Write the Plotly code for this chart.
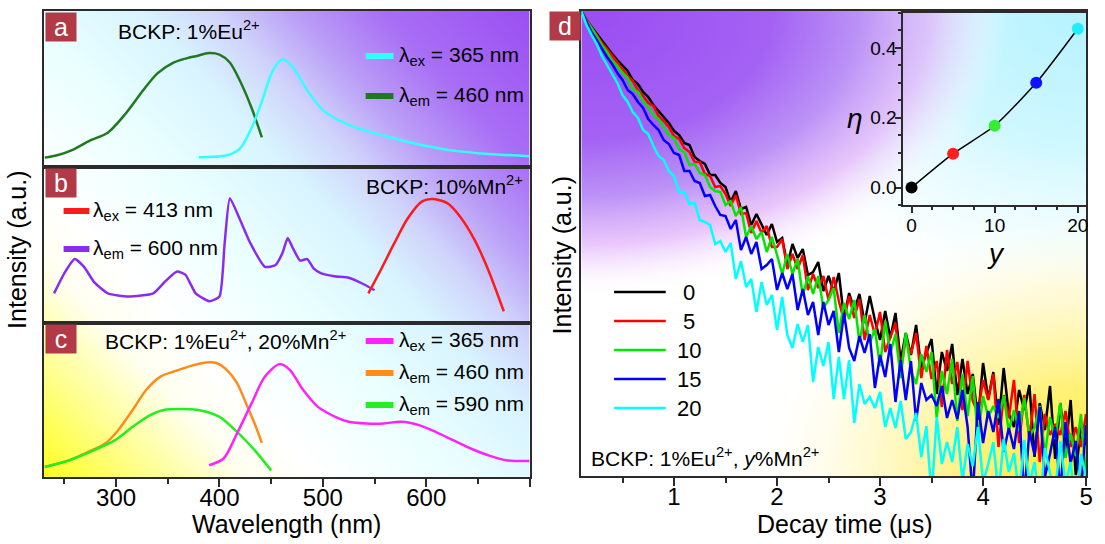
import base64
import numpy as np
import plotly.graph_objects as go

W, H = 1105, 544
FONT = "Arial"
EDGE = "#2b2b2b"

# ---------------- spectra (normalised intensity) ----------------
# (a) BCKP: 1%Eu2+
a_exc_wl = [231, 243, 258, 275, 292, 309, 326, 340, 356, 370, 377, 390, 400, 410, 420, 431, 441]
a_exc_int = [0.06, 0.075, 0.11, 0.17, 0.22, 0.34, 0.49, 0.60, 0.67, 0.70, 0.71, 0.73, 0.72, 0.67, 0.55, 0.38, 0.19]
a_em_wl = [380, 407, 420, 431, 441, 451, 461, 471, 485, 501, 525, 559, 593, 626, 660, 700]
a_em_int = [0.062, 0.075, 0.12, 0.25, 0.42, 0.61, 0.69, 0.64, 0.49, 0.36, 0.27, 0.20, 0.144, 0.105, 0.084, 0.069]

# (b) BCKP: 10%Mn2+
b_exc_wl = [240, 250, 260, 269, 279, 292, 312, 336, 348, 359, 367, 377, 390, 400, 405, 410, 420, 430,
            444, 454, 461, 466, 471, 478, 485, 491, 498, 511, 525, 539, 550]
b_exc_int = [0.19, 0.32, 0.41, 0.36, 0.26, 0.19, 0.17, 0.19, 0.27, 0.33, 0.31, 0.19, 0.14, 0.17, 0.51, 0.80, 0.66, 0.51,
             0.36, 0.37, 0.45, 0.545, 0.48, 0.40, 0.41, 0.35, 0.32, 0.30, 0.29, 0.25, 0.21]
b_em_wl = [544, 556, 569, 582, 596, 606, 620, 633, 647, 660, 675]
b_em_int = [0.19, 0.34, 0.51, 0.67, 0.78, 0.795, 0.77, 0.68, 0.53, 0.34, 0.075]

# (c) BCKP: 1%Eu2+, 20%Mn2+
c_em_wl = [390, 404, 417, 431, 444, 458, 468, 481, 495, 512, 525, 542, 559, 576, 593, 609, 626, 643, 660, 677, 700]
c_em_int = [0.076, 0.12, 0.283, 0.478, 0.652, 0.733, 0.696, 0.565, 0.457, 0.391, 0.359, 0.348, 0.348, 0.359,
            0.337, 0.293, 0.239, 0.185, 0.141, 0.109, 0.104]
c_exc460_wl = [231, 255, 272, 289, 302, 316, 329, 343, 356, 370, 387, 397, 407, 417, 427, 434, 441]
c_exc460_int = [0.065, 0.11, 0.16, 0.215, 0.304, 0.435, 0.565, 0.652, 0.685, 0.717, 0.743, 0.74, 0.696, 0.61,
                0.457, 0.348, 0.222]
c_exc590_wl = [231, 255, 275, 299, 316, 333, 346, 366, 383, 400, 417, 434, 450]
c_exc590_int = [0.065, 0.109, 0.163, 0.239, 0.326, 0.402, 0.435, 0.441, 0.43, 0.39, 0.293, 0.174, 0.043]

wl_ticks = [300, 400, 500, 600, 700]
wl_ticktext = ["300", "400", "500", "600", ""]

# ---------------- decay curves, log10(counts) ----------------
decay_time = np.round(np.arange(0.10, 5.0001, 0.05), 2)
logc_0 = [4.65, 4.56, 4.49, 4.42, 4.35, 4.29, 4.22, 4.16, 4.10, 4.05,
          3.96, 3.92, 3.84, 3.79, 3.71, 3.65, 3.58, 3.53, 3.45, 3.41,
          3.33, 3.31, 3.19, 3.15, 3.12, 3.01, 3.01, 2.93, 2.89, 2.74,
          2.85, 2.67, 2.69, 2.51, 2.62, 2.52, 2.41, 2.52, 2.34, 2.38,
          2.11, 2.32, 2.18, 2.27, 2.01, 2.04, 2.14, 1.85, 2.00, 1.84,
          2.03, 1.58, 1.83, 1.66, 1.82, 1.53, 1.80, 1.56, 1.36, 1.65,
          1.38, 1.63, 1.15, 1.43, 1.21, 1.51, 1.08, 1.23, 1.37, 0.82,
          1.24, 1.05, 1.32, 0.81, 1.17, 0.82, 1.02, 0.56, 1.13, 0.77,
          1.04, 0.51, 1.08, 0.62, 0.49, 0.86, 0.66, 0.91, 0.19, 0.73,
          0.46, 0.90, 0.17, 0.73, 0.26, 0.76, 0.01, 0.51, 0.31]
logc_5 = [4.65, 4.56, 4.48, 4.41, 4.33, 4.27, 4.20, 4.13, 4.07, 4.00,
          3.95, 3.86, 3.80, 3.73, 3.70, 3.60, 3.55, 3.49, 3.40, 3.37,
          3.28, 3.24, 3.14, 3.14, 3.02, 3.00, 2.89, 2.90, 2.82, 2.70,
          2.81, 2.62, 2.63, 2.43, 2.55, 2.43, 2.50, 2.29, 2.29, 2.37,
          2.07, 2.22, 2.07, 2.21, 1.86, 2.02, 1.88, 2.00, 1.76, 1.99,
          1.75, 1.55, 1.80, 1.58, 1.77, 1.36, 1.61, 1.41, 1.64, 1.24,
          1.39, 1.53, 1.05, 1.37, 1.22, 1.43, 0.98, 1.30, 0.97, 1.15,
          0.69, 1.26, 0.92, 1.14, 0.66, 1.15, 0.75, 0.63, 0.96, 0.76,
          1.02, 0.29, 0.81, 0.58, 0.96, 0.33, 0.81, 0.37, 0.82, 0.14,
          0.62, 0.41, 0.52, 0.41, 0.65, 0.29, 0.49, 0.29, 0.62]
logc_10 = [4.65, 4.55, 4.48, 4.39, 4.31, 4.24, 4.15, 4.10, 4.03, 3.98,
           3.87, 3.84, 3.75, 3.69, 3.61, 3.57, 3.49, 3.41, 3.38, 3.27,
           3.24, 3.11, 3.12, 3.03, 3.01, 2.89, 2.85, 2.84, 2.71, 2.75,
           2.60, 2.69, 2.39, 2.50, 2.37, 2.44, 2.24, 2.39, 2.21, 2.02,
           2.22, 2.02, 2.17, 1.80, 2.00, 1.82, 2.00, 1.68, 1.76, 1.88,
           1.43, 1.73, 1.57, 1.76, 1.34, 1.61, 1.33, 1.47, 1.10, 1.55,
           1.23, 1.42, 0.98, 1.43, 1.05, 0.92, 1.22, 1.04, 1.24, 0.58,
           1.05, 0.82, 1.17, 0.55, 1.02, 0.60, 1.00, 0.39, 0.80, 0.59,
           0.70, 0.58, 0.80, 0.45, 0.66, 0.45, 0.78, 0.40, 0.48, 0.70,
           0.21, 0.59, 0.37, 0.73, 0.18, 0.43, 0.20, 0.62, -0.01]
logc_15 = [4.65, 4.54, 4.44, 4.36, 4.27, 4.19, 4.12, 4.03, 3.96, 3.86,
           3.82, 3.74, 3.68, 3.57, 3.51, 3.46, 3.36, 3.32, 3.23, 3.21,
           3.05, 3.05, 2.95, 2.93, 2.80, 2.81, 2.70, 2.61, 2.60, 2.47,
           2.56, 2.26, 2.39, 2.22, 2.34, 2.07, 2.11, 2.17, 1.86, 2.03,
           1.87, 2.02, 1.66, 1.87, 1.61, 1.74, 1.41, 1.74, 1.51, 1.65,
           1.24, 1.63, 1.28, 1.15, 1.40, 1.23, 1.42, 0.88, 1.21, 0.99,
           1.32, 0.74, 1.16, 0.76, 1.15, 0.55, 0.93, 0.76, 0.81, 0.70,
           0.90, 0.58, 0.76, 0.57, 0.86, 0.49, -0.20, 0.74, 0.33, 0.65,
           0.44, 0.77, 0.24, 0.48, 0.27, 0.65, -0.20, 0.45, 0.21, 0.69,
           -0.01, 0.22, 0.49, -0.17, 0.54, 0.13, 0.35, -0.16, 0.51]
logc_20 = [4.65, 4.51, 4.41, 4.32, 4.20, 4.11, 4.01, 3.93, 3.81, 3.74,
           3.64, 3.58, 3.46, 3.42, 3.30, 3.20, 3.16, 3.05, 3.00, 2.84,
           2.84, 2.72, 2.73, 2.56, 2.54, 2.51, 2.32, 2.35, 2.24, 2.33,
           1.97, 2.15, 1.89, 1.97, 1.64, 1.94, 1.71, 1.81, 1.46, 1.79,
           1.41, 1.28, 1.52, 1.34, 1.51, 0.94, 1.29, 1.10, 1.34, 0.77,
           1.19, 0.77, 1.16, 0.53, 0.92, 0.72, 0.79, 0.68, 0.84, 0.49,
           0.68, 0.48, 0.75, 0.37, 0.44, 0.63, 0.19, 0.50, -0.20, 0.59,
           0.12, 0.34, 0.14, 0.49, -0.05, 0.32, 0.10, 0.49, -0.07, 0.12,
           0.34, -0.19, 0.37, 0.04, 0.23, -0.18, 0.36, -0.08, 0.14, -0.30,
           0.28, 0.03, -0.16, 0.35, -0.08, 0.14, -0.35, 0.22, -0.01]

mn_content = [0, 5, 10, 15, 20]
decay_series = [logc_0, logc_5, logc_10, logc_15, logc_20]
decay_colors = ["#000000", "#ff0000", "#00e600", "#0000ff", "#00ffff"]

# energy-transfer efficiency (inset)
eta_values = [0.0, 0.097, 0.177, 0.30, 0.455]
eta_colors = ["#000000", "#ff1f1f", "#33ee33", "#1010ff", "#22eeff"]


# ---------------- helpers ----------------
def dom_x(p0, p1):
    return [p0 / W, p1 / W]


def dom_y(top, bot):
    return [1 - bot / H, 1 - top / H]


def note(text, x, y, size=21, xanchor="left", yanchor="middle", color="black", **kw):
    return dict(text=text, x=x / W, y=1 - y / H, xref="paper", yref="paper", showarrow=False,
                xanchor=xanchor, yanchor=yanchor, font=dict(family=FONT, size=size, color=color), **kw)


def svg_uri(svg):
    return "data:image/svg+xml;base64," + base64.b64encode(svg.encode()).decode()


LEFT = dom_x(44, 533)
DOM_A = dom_y(11, 167)
DOM_B = dom_y(167, 323)
DOM_C = dom_y(323, 477)
D_X = dom_x(585, 1093)
D_Y = dom_y(11, 476)
IN_X = dom_x(909, 1093)
IN_Y = dom_y(13, 205)

fig = go.Figure()


def curve(x, y, ax, color, width=2.5, shape="spline", smoothing=0.8):
    fig.add_trace(go.Scatter(x=x, y=y, xaxis="x" + ax, yaxis="y" + ax, mode="lines",
                             line=dict(color=color, width=width, shape=shape,
                                       **({"smoothing": smoothing} if shape == "spline" else {})),
                             showlegend=False, hoverinfo="skip"))


curve(a_exc_wl, a_exc_int, "", "#1f7a1f")
curve(a_em_wl, a_em_int, "", "#33ffff")
curve(b_exc_wl, b_exc_int, "2", "#8a2cf0", smoothing=0.5)
curve(b_em_wl, b_em_int, "2", "#ff1a1a")
curve(c_exc460_wl, c_exc460_int, "3", "#ff8c1a")
curve(c_exc590_wl, c_exc590_int, "3", "#22ee22")
curve(c_em_wl, c_em_int, "3", "#ff22ff")

for logc, col in zip(decay_series, decay_colors):
    curve(decay_time, 10 ** np.array(logc), "4", col, width=2.5, shape="linear")

fig.add_trace(go.Scatter(x=mn_content, y=eta_values, xaxis="x5", yaxis="y5", mode="lines+markers",
                         line=dict(color="black", width=1.5, shape="spline", smoothing=0.6),
                         marker=dict(color=eta_colors, size=12, line=dict(width=0)),
                         showlegend=False, hoverinfo="skip"))

frame = dict(showline=True, linecolor=EDGE, linewidth=2, mirror=True, showgrid=False, zeroline=False)
blank = dict(showticklabels=False, ticks="")
tickfont = dict(family=FONT, size=24, color="black")
inset_font = dict(family=FONT, size=19, color="black")

layout = dict(
    width=W, height=H, margin=dict(l=0, r=0, t=0, b=0),
    paper_bgcolor="white", plot_bgcolor="rgba(0,0,0,0)", showlegend=False,
    xaxis=dict(domain=LEFT, range=[230, 700], anchor="y", **frame, **blank),
    yaxis=dict(domain=DOM_A, range=[0, 1], anchor="x", **frame, **blank),
    xaxis2=dict(domain=LEFT, range=[230, 700], anchor="y2", **frame, **blank),
    yaxis2=dict(domain=DOM_B, range=[0, 1], anchor="x2", **frame, **blank),
    xaxis3=dict(domain=LEFT, range=[230, 700], anchor="y3", tickmode="array", tickvals=wl_ticks,
                ticktext=wl_ticktext, ticks="outside", ticklen=8, tickwidth=2, tickcolor=EDGE,
                tickfont=tickfont, ticklabelstandoff=-10,
                minor=dict(ticks="outside", ticklen=5, tickwidth=2, tickcolor=EDGE, dtick=50, tick0=0),
                **frame),
    yaxis3=dict(domain=DOM_C, range=[0, 1], anchor="x3", **frame, **blank),
    xaxis4=dict(domain=D_X, range=[0.1, 5], anchor="y4", dtick=1, tick0=0, ticks="outside", ticklen=8,
                tickwidth=2, tickcolor=EDGE, tickfont=tickfont, ticklabelstandoff=-10,
                minor=dict(ticks="outside", ticklen=5, tickwidth=2, tickcolor=EDGE, dtick=0.5, tick0=0),
                **frame),
    yaxis4=dict(domain=D_Y, type="log", range=[0, 4.65], anchor="x4", **frame, **blank),
    xaxis5=dict(domain=IN_X, range=[-1, 21], anchor="y5", dtick=10, tick0=0, ticks="outside", ticklen=6,
                tickwidth=1.5, tickcolor=EDGE, tickfont=inset_font, ticklabelstandoff=-4,
                minor=dict(ticks="outside", ticklen=3, tickwidth=1.5, tickcolor=EDGE, dtick=2.5, tick0=0),
                showline=True, linecolor=EDGE, linewidth=1.5, mirror=True, showgrid=False, zeroline=False),
    yaxis5=dict(domain=IN_Y, range=[-0.05, 0.5], anchor="x5", dtick=0.2, tick0=0, tickformat=".1f",
                ticks="outside", ticklen=6, tickwidth=1.5, tickcolor=EDGE, tickfont=inset_font,
                ticklabelstandoff=-5,
                minor=dict(ticks="outside", ticklen=3, tickwidth=1.5, tickcolor=EDGE, dtick=0.05, tick0=0),
                showline=True, linecolor=EDGE, linewidth=1.5, mirror=True, showgrid=False, zeroline=False),
)
fig.update_layout(**layout)

# ---------------- background washes ----------------
left_svg = """<svg xmlns="http://www.w3.org/2000/svg" width="489" height="466" viewBox="0 0 489 466" preserveAspectRatio="none">
<defs><linearGradient id="g" gradientUnits="userSpaceOnUse" x1="0" y1="466" x2="489" y2="0">
<stop offset="0" stop-color="#ffff20"/>
<stop offset="0.1" stop-color="#ffff80"/>
<stop offset="0.22" stop-color="#fffff0"/>
<stop offset="0.3" stop-color="#ffffff"/>
<stop offset="0.45" stop-color="#eaffff"/>
<stop offset="0.58" stop-color="#d8f4ff"/>
<stop offset="0.66" stop-color="#d0d4fb"/>
<stop offset="0.74" stop-color="#bba0f7"/>
<stop offset="0.84" stop-color="#a86ef5"/>
<stop offset="1" stop-color="#9b4ff2"/>
</linearGradient></defs>
<rect width="489" height="466" fill="url(#g)"/></svg>"""

d_svg = """<svg xmlns="http://www.w3.org/2000/svg" width="508" height="465" viewBox="0 0 508 465" preserveAspectRatio="none">
<defs>
<radialGradient id="c" gradientUnits="userSpaceOnUse" cx="0" cy="0" r="1" gradientTransform="translate(508 0) scale(380 300)">
<stop offset="0" stop-color="#b4f2ff" stop-opacity="1"/>
<stop offset="0.45" stop-color="#c6f6ff" stop-opacity="0.85"/>
<stop offset="0.8" stop-color="#e6fcff" stop-opacity="0.45"/>
<stop offset="1" stop-color="#ffffff" stop-opacity="0"/>
</radialGradient>
<radialGradient id="y" gradientUnits="userSpaceOnUse" cx="0" cy="0" r="1" gradientTransform="translate(508 465) scale(340 270)">
<stop offset="0" stop-color="#ffea20" stop-opacity="1"/>
<stop offset="0.35" stop-color="#ffef66" stop-opacity="0.85"/>
<stop offset="0.7" stop-color="#fff6b0" stop-opacity="0.45"/>
<stop offset="1" stop-color="#ffffff" stop-opacity="0"/>
</radialGradient>
<radialGradient id="p" gradientUnits="userSpaceOnUse" cx="0" cy="0" r="1" gradientTransform="scale(430 285)">
<stop offset="0" stop-color="#9a4cf2" stop-opacity="1"/>
<stop offset="0.45" stop-color="#a462f4" stop-opacity="1"/>
<stop offset="0.65" stop-color="#b88cf6" stop-opacity="0.95"/>
<stop offset="0.82" stop-color="#e2b4fa" stop-opacity="0.75"/>
<stop offset="0.93" stop-color="#f6e6fd" stop-opacity="0.4"/>
<stop offset="1" stop-color="#ffffff" stop-opacity="0"/>
</radialGradient>
</defs>
<rect width="508" height="465" fill="#ffffff"/>
<rect width="508" height="465" fill="url(#c)"/>
<rect width="508" height="465" fill="url(#y)"/>
<rect width="508" height="465" fill="url(#p)"/>
</svg>"""

fig.update_layout(images=[
    dict(source=svg_uri(left_svg), xref="paper", yref="paper", x=LEFT[0], y=DOM_A[1],
         sizex=LEFT[1] - LEFT[0], sizey=DOM_A[1] - DOM_C[0], xanchor="left", yanchor="top",
         sizing="stretch", layer="below"),
    dict(source=svg_uri(d_svg), xref="paper", yref="paper", x=D_X[0], y=D_Y[1],
         sizex=D_X[1] - D_X[0], sizey=D_Y[1] - D_Y[0], xanchor="left", yanchor="top",
         sizing="stretch", layer="below"),
])

# ---------------- legends, labels and titles ----------------
shapes = []
annotations = []


def legend_block(items, x0, x1, y0, dy, width, text_x, size=21, text_anchor="left"):
    for k, (label, col) in enumerate(items):
        y = y0 + k * dy
        shapes.append(dict(type="line", xref="paper", yref="paper", x0=x0 / W, x1=x1 / W,
                           y0=1 - y / H, y1=1 - y / H, line=dict(color=col, width=width)))
        annotations.append(note(label, text_x, y, size=size, xanchor=text_anchor))


legend_block([("λ<sub>ex</sub> = 365 nm", "#33ffff"), ("λ<sub>em</sub> = 460 nm", "#1f7a1f")],
             368, 396, 56, 40, 6, 400)
legend_block([("λ<sub>ex</sub> = 413 nm", "#ff1a1a"), ("λ<sub>em</sub> = 600 nm", "#8a2cf0")],
             64, 90, 211, 38, 6, 92)
legend_block([("λ<sub>ex</sub> = 365 nm", "#ff22ff"), ("λ<sub>em</sub> = 460 nm", "#ff8c1a"),
              ("λ<sub>em</sub> = 590 nm", "#22ee22")],
             368, 396, 341, 32, 6, 400)
legend_block([(str(v), c) for v, c in zip(mn_content, decay_colors)],
             618, 670, 292, 29, 2.5, 693, size=22, text_anchor="center")

annotations += [
    note("BCKP: 1%Eu<sup>2+</sup>", 117, 30),
    note("BCKP: 10%Mn<sup>2+</sup>", 528, 185, xanchor="right"),
    note("BCKP: 1%Eu<sup>2+</sup>, 20%Mn<sup>2+</sup>", 104, 340),
    note("BCKP: 1%Eu<sup>2+</sup>, <i>y</i>%Mn<sup>2+</sup>", 593, 457),
    note("Intensity (a.u.)", 17, 250, size=25, xanchor="center", textangle=-90),
    note("Wavelength (nm)", 288, 524, size=25, xanchor="center"),
    note("Intensity (a.u.)", 566, 255, size=25, xanchor="center", textangle=-90),
    note("Decay time (μs)", 850, 524, size=25, xanchor="center"),
    note("<i>η</i>", 860, 118, size=28, xanchor="center"),
    note("<i>y</i>", 1002, 253, size=28, xanchor="center"),
]

for letter, lx, ly in [("a", 45, 12), ("b", 45, 168), ("c", 45, 324), ("d", 552, 11)]:
    annotations.append(dict(text=letter, x=lx / W, y=1 - ly / H, xref="paper", yref="paper",
                            showarrow=False, xanchor="left", yanchor="top", width=30, height=28,
                            bgcolor="#b23a47", borderpad=0, align="center", valign="middle",
                            font=dict(family=FONT, size=25, color="white")))

fig.update_layout(shapes=shapes, annotations=annotations)
fig.write_html("out.html")
